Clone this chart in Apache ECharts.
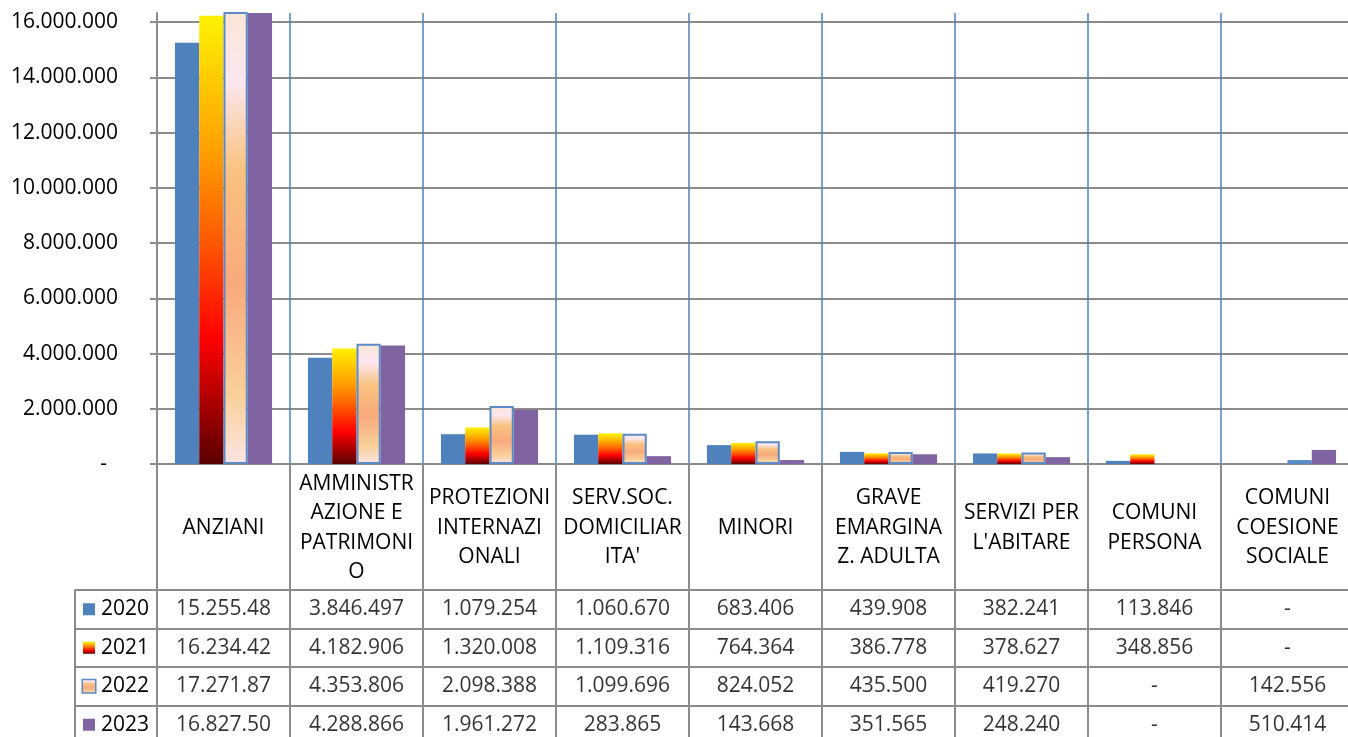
<!DOCTYPE html>
<html>
<head>
<meta charset="utf-8">
<script src="https://cdn.jsdelivr.net/npm/echarts@6/dist/echarts.min.js"></script>
<style>
html, body { margin: 0; padding: 0; background: #fff; }
#chart { width: 1348px; height: 737px; }
</style>
</head>
<body>
<div id="chart"></div>
<script>
// header labels wrapped the way the sheet wraps them
const categories = [
  'ANZIANI',
  'AMMINISTR\nAZIONE E\nPATRIMONI\nO',
  'PROTEZIONI\nINTERNAZI\nONALI',
  'SERV.SOC.\nDOMICILIAR\nITA\'',
  'MINORI',
  'GRAVE\nEMARGINA\nZ. ADULTA',
  'SERVIZI PER\nL\'ABITARE',
  'COMUNI\nPERSONA',
  'COMUNI\nCOESIONE\nSOCIALE'
]
const years = ['2020', '2021', '2022', '2023']

const values2020 = [15255480, 3846497, 1079254, 1060670, 683406, 439908, 382241, 113846, 0]
const values2021 = [16234420, 4182906, 1320008, 1109316, 764364, 386778, 378627, 348856, 0]
const values2022 = [17271870, 4353806, 2098388, 1099696, 824052, 435500, 419270, 0, 142556]
const values2023 = [16827500, 4288866, 1961272, 283865, 143668, 351565, 248240, 0, 510414]

const seriesValues = [values2020, values2021, values2022, values2023]

const FONT = '"Open Sans", "Liberation Sans", sans-serif'
const GRID_GRAY = '#8c8c8c'
const SPLIT_BLUE = '#4f81bd'

const fills = [
  '#4f81bd',
  {
    type: 'linear', x: 0, y: 0, x2: 0, y2: 1,
    colorStops: [
      { offset: 0, color: '#fff200' },
      { offset: 0.3, color: '#ffa000' },
      { offset: 0.5, color: '#ff5a00' },
      { offset: 0.72, color: '#ff0000' },
      { offset: 1, color: '#5a0000' }
    ]
  },
  {
    type: 'linear', x: 0, y: 0, x2: 0, y2: 1,
    colorStops: [
      { offset: 0, color: '#fbe5d6' },
      { offset: 0.15, color: '#fde7f0' },
      { offset: 0.35, color: '#f9c27f' },
      { offset: 0.6, color: '#f9a97c' },
      { offset: 0.85, color: '#f9d09a' },
      { offset: 1, color: '#fde4e2' }
    ]
  },
  '#8064a2'
]

function itNumber(v) {
  if (!v) return '-'
  return String(Math.round(v)).replace(/\B(?=(\d{3})+(?!\d))/g, '.')
}

// the sheet column is too narrow for 8 digit values, excel cuts the last digit
function cellText(v) {
  const s = itNumber(v)
  return s.length > 9 ? s.slice(0, 9) : s
}

const barSeries = years.map((year, i) => ({
  name: year,
  type: 'bar',
  xAxisIndex: 0,
  yAxisIndex: 0,
  barGap: '0%',
  barCategoryGap: '27%',
  // zero means no bar at all (no outline either)
  data: seriesValues[i].map(v => (v ? v : '-')),
  itemStyle: {
    color: fills[i],
    borderColor: i === 2 ? '#5b8ac6' : 'transparent',
    borderWidth: i === 2 ? 2 : 0
  }
}))

const cellData = []
seriesValues.forEach((vals, row) => {
  vals.forEach((v, col) => cellData.push([col, row, v]))
})

const keyRich = {}
fills.forEach((fill, i) => {
  keyRich['k' + i] = {
    width: 12,
    height: 12,
    backgroundColor: fill,
    borderColor: i === 2 ? '#5b8ac6' : 'transparent',
    borderWidth: i === 2 ? 1.5 : 0
  }
})
keyRich.t = { fontSize: 21, color: '#000', fontFamily: FONT, padding: [0, 0, 0, 6] }

const chart = echarts.init(document.getElementById('chart'))

chart.setOption({
  animation: false,
  backgroundColor: '#ffffff',
  textStyle: { fontFamily: FONT, color: '#000' },
  grid: [
    { left: 157, top: 13, width: 1197, height: 451, outerBoundsMode: 'none' },
    { left: 75, top: 590, width: 1279, height: 154, outerBoundsMode: 'none' },
    { left: 157, top: 590, width: 1197, height: 154, outerBoundsMode: 'none' }
  ],
  xAxis: [
    {
      type: 'category',
      gridIndex: 0,
      data: categories,
      axisLine: { lineStyle: { color: GRID_GRAY, width: 2 } },
      // ticks run down through the table and draw its column borders
      axisTick: { show: true, interval: 0, length: 280, lineStyle: { color: GRID_GRAY, width: 2 } },
      splitLine: { show: true, interval: 0, showMinLine: false, lineStyle: { color: SPLIT_BLUE, width: 1.5 } },
      axisLabel: {
        interval: 0,
        margin: 64,
        verticalAlign: 'middle',
        align: 'center',
        fontSize: 21,
        lineHeight: 29.5,
        color: '#000',
        fontFamily: FONT
      }
    },
    { type: 'value', gridIndex: 1, show: false },
    { type: 'category', gridIndex: 2, data: categories, show: false }
  ],
  yAxis: [
    {
      type: 'value',
      gridIndex: 0,
      min: 0,
      max: 16330000,
      interval: 2000000,
      axisLine: { show: true, lineStyle: { color: GRID_GRAY, width: 2 } },
      axisTick: { show: true, length: 7, lineStyle: { color: GRID_GRAY, width: 2 } },
      splitLine: { show: true, showMaxLine: false, lineStyle: { color: GRID_GRAY, width: 2 } },
      axisLabel: {
        margin: 39,
        showMaxLabel: false,
        fontSize: 21,
        color: '#000',
        fontFamily: FONT,
        formatter: v => (v === 0 ? '-  ' : itNumber(v))
      }
    },
    {
      type: 'category',
      gridIndex: 1,
      data: years,
      inverse: true,
      axisLine: { show: true, lineStyle: { color: GRID_GRAY, width: 2 } },
      axisTick: { show: false },
      splitLine: { show: true, interval: 0, lineStyle: { color: GRID_GRAY, width: 2 } },
      axisLabel: {
        inside: true,
        margin: 8,
        interval: 0,
        formatter: (val, idx) => '{k' + idx + '|}{t|' + val + '}',
        rich: keyRich
      }
    },
    { type: 'category', gridIndex: 2, data: years, inverse: true, show: false }
  ],
  series: [
    ...barSeries,
    {
      name: 'tabella',
      type: 'scatter',
      xAxisIndex: 2,
      yAxisIndex: 2,
      symbolSize: 1,
      itemStyle: { color: 'transparent' },
      silent: true,
      data: cellData,
      label: {
        show: true,
        position: 'inside',
        fontSize: 21,
        color: '#000',
        fontFamily: FONT,
        formatter: p => cellText(p.value[2])
      }
    }
  ]
})
</script>
</body>
</html>
